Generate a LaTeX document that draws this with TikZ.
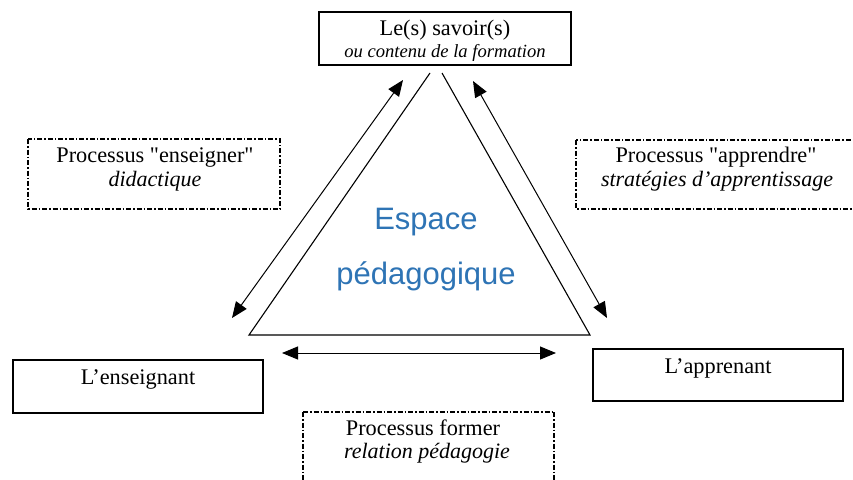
\documentclass[tikz,border=0pt]{standalone}
\usepackage{fontspec}
\setmainfont{Liberation Serif}[Ligatures=TeXOff]
\newfontfamily\espfont{Liberation Sans}
\usetikzlibrary{arrows.meta}
\definecolor{espblue}{RGB}{46,116,181}
\begin{document}
\begin{tikzpicture}[x=1pt,y=-1pt,
  txt/.style={inner sep=0pt,anchor=base,font=\fontsize{22.3}{24}\selectfont},
  itxt/.style={inner sep=0pt,anchor=base,font=\fontsize{22}{24}\selectfont\itshape},
  solidbox/.style={draw,line width=1.7pt},
  dashbox/.style={draw,line width=1.3pt,dash pattern=on 5pt off 2pt on 1.5pt off 2pt},
  tri/.style={draw,line width=1.1pt},
  arr/.style={draw,line width=1pt,{Triangle[length=16pt,width=13pt]}-{Triangle[length=16pt,width=13pt]}},
  esp/.style={inner sep=0pt,anchor=base,text=espblue,font=\espfont\fontsize{31}{34}\selectfont}]
\useasboundingbox (0,0) rectangle (853,479);
\fill[white] (0,0) rectangle (853,479);

% top box
\draw[solidbox] (319,12) rectangle (571,65);
\node[txt] (sav1) at (445,35) {Le(s) savoir(s)};
\node[itxt,font=\fontsize{18.6}{22}\selectfont\itshape] (sav2) at (445,57) {ou contenu de la formation};

% left dashed box
\draw[dashbox] (28,139) rectangle (280,209);
\node[txt] (ens1) at (155,162) {Processus "enseigner"};
\node[itxt] (ens2) at (155,186) {didactique};

% right dashed box and bottom dashed box (cut at the edges)
\begin{scope}
\clip (0,0) rectangle (853,479);
\draw[dashbox] (576,140) rectangle (870,209);
\draw[dashbox] (303,412) -- (554,412) (303,412) -- (303,490) (554,412) -- (554,490);
\end{scope}
\node[txt] (app1) at (716,162) {Processus "apprendre"};
\node[itxt] (app2) at (717,186) {stratégies d’apprentissage};

% bottom dashed box text
\node[txt] (for1) at (423,435) {Processus former};
\node[itxt] (for2) at (427,458) {relation pédagogie};

% bottom solid boxes
\draw[solidbox] (13,360) rectangle (263,413);
\node[txt] (ensg) at (138,384) {L’enseignant};
\draw[solidbox] (593,349) rectangle (843,401);
\node[txt] (appr) at (718,373) {L’apprenant};

% triangle
\coordinate (tl) at (430,73);
\coordinate (tr) at (442,73);
\coordinate (bl) at (249,335);
\coordinate (br) at (590,335);
\draw[tri] (tl) -- (bl) -- (br) -- (tr);

% arrows
\coordinate (a1) at (403,80);
\coordinate (a2) at (232,318);
\coordinate (b1) at (473,81);
\coordinate (b2) at (607,318);
\coordinate (c1) at (282,353);
\coordinate (c2) at (556,353);
\draw[arr] (a1) -- (a2);
\draw[arr] (b1) -- (b2);
\draw[arr] (c1) -- (c2);

% centre text
\node[esp] (e1) at (426,229) {Espace};
\node[esp] (e2) at (426,284) {pédagogique};
\end{tikzpicture}
\end{document}
